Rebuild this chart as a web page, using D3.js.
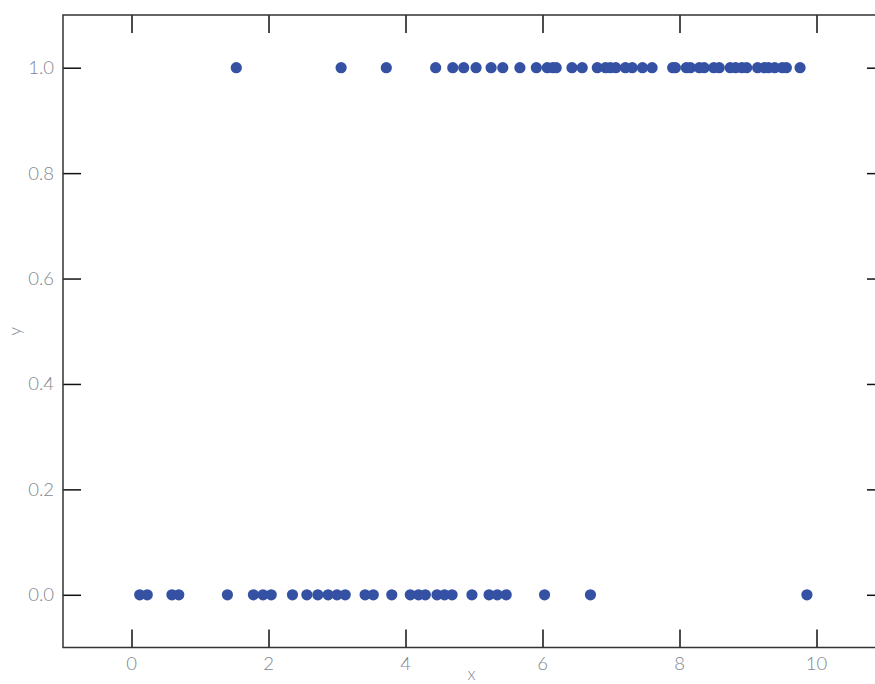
<!DOCTYPE html>
<html>
<head>
  <script src="https://d3js.org/d3.v7.min.js"></script>
  <style>
    body { margin: 0; background: #fff; }
    .tick-label { font-family: Lato, "Open Sans", sans-serif; font-weight: 300; font-size: 18.5px; fill: #7f878f; }
    .axis-label { font-family: Lato, "Open Sans", sans-serif; font-weight: 300; font-size: 17px; fill: #7f878f; }
  </style>
</head>
<body>
<div id="chart"></div>
<script>
  // x positions of the points with y = 0
  var xZero = [0.12, 0.23, 0.59, 0.69, 1.40, 1.78, 1.92, 2.04, 2.35, 2.56,
               2.72, 2.87, 3.00, 3.12, 3.41, 3.53, 3.80, 4.07, 4.19, 4.29,
               4.46, 4.57, 4.68, 4.97, 5.22, 5.34, 5.47, 6.03, 6.70, 9.86];
  // x positions of the points with y = 1
  var xOne = [1.53, 3.06, 3.72, 4.44, 4.69, 4.85, 5.03, 5.25, 5.42, 5.67,
              5.91, 6.07, 6.15, 6.20, 6.43, 6.58, 6.80, 6.92, 6.99, 7.07,
              7.21, 7.31, 7.46, 7.60, 7.90, 7.94, 8.10, 8.16, 8.29, 8.36,
              8.50, 8.58, 8.74, 8.82, 8.91, 8.98, 9.14, 9.24, 9.30, 9.39,
              9.50, 9.56, 9.76];
  var xTicks = [0, 2, 4, 6, 8, 10];
  var yTicks = [0.0, 0.2, 0.4, 0.6, 0.8, 1.0];

  var width = 875, height = 684;
  var tickLen = 18;

  var points = xZero.map(function(d) { return { x: d, y: 0 }; })
    .concat(xOne.map(function(d) { return { x: d, y: 1 }; }));

  var x = d3.scaleLinear().domain([-1, 11]).range([63, 885]);
  var y = d3.scaleLinear().domain([-0.1, 1.1]).range([647.5, 15]);

  var svg = d3.select('#chart')
    .append('svg')
    .attr('width', width)
    .attr('height', height);

  // points
  svg.append('g')
    .selectAll('circle')
    .data(points)
    .enter()
    .append('circle')
    .attr('cx', function(d) { return x(d.x); })
    .attr('cy', function(d) { return y(d.y); })
    .attr('r', 5.6)
    .attr('fill', '#3451a3');

  // axes with inward ticks on all four sides
  var fmt = d3.format('.1f');
  svg.append('g')
    .attr('transform', 'translate(0,' + y(-0.1) + ')')
    .call(d3.axisTop(x).tickValues(xTicks).tickSize(tickLen).tickFormat(''));
  svg.append('g')
    .attr('transform', 'translate(0,' + y(1.1) + ')')
    .call(d3.axisBottom(x).tickValues(xTicks).tickSize(tickLen).tickFormat(''));
  svg.append('g')
    .attr('transform', 'translate(' + x(-1) + ',0)')
    .call(d3.axisRight(y).tickValues(yTicks).tickSize(tickLen).tickFormat(''));
  svg.append('g')
    .attr('transform', 'translate(' + x(11) + ',0)')
    .call(d3.axisLeft(y).tickValues(yTicks).tickSize(tickLen).tickFormat(''));

  svg.selectAll('.domain').remove();
  svg.selectAll('.tick line').attr('stroke', '#111').attr('stroke-width', 1.5);

  // frame
  svg.append('rect')
    .attr('x', x(-1))
    .attr('y', y(1.1))
    .attr('width', x(11) - x(-1))
    .attr('height', y(-0.1) - y(1.1))
    .attr('fill', 'none')
    .attr('stroke', '#333')
    .attr('stroke-width', 1.5);

  // tick labels
  svg.append('g').selectAll('text')
    .data(xTicks)
    .enter()
    .append('text')
    .attr('class', 'tick-label')
    .attr('x', function(d) { return x(d); })
    .attr('y', y(-0.1) + 22)
    .attr('text-anchor', 'middle')
    .text(function(d) { return d; });

  svg.append('g').selectAll('text')
    .data(yTicks)
    .enter()
    .append('text')
    .attr('class', 'tick-label')
    .attr('x', x(-1) - 9)
    .attr('y', function(d) { return y(d) + 6.5; })
    .attr('text-anchor', 'end')
    .text(function(d) { return fmt(d); });

  // axis labels
  svg.append('text')
    .attr('class', 'axis-label')
    .attr('x', (x(-1) + 880) / 2)
    .attr('y', 680)
    .attr('text-anchor', 'middle')
    .text('x');

  svg.append('text')
    .attr('class', 'axis-label')
    .attr('transform', 'translate(21,' + y(0.5) + ') rotate(-90)')
    .attr('text-anchor', 'middle')
    .text('y');
</script>
</body>
</html>
